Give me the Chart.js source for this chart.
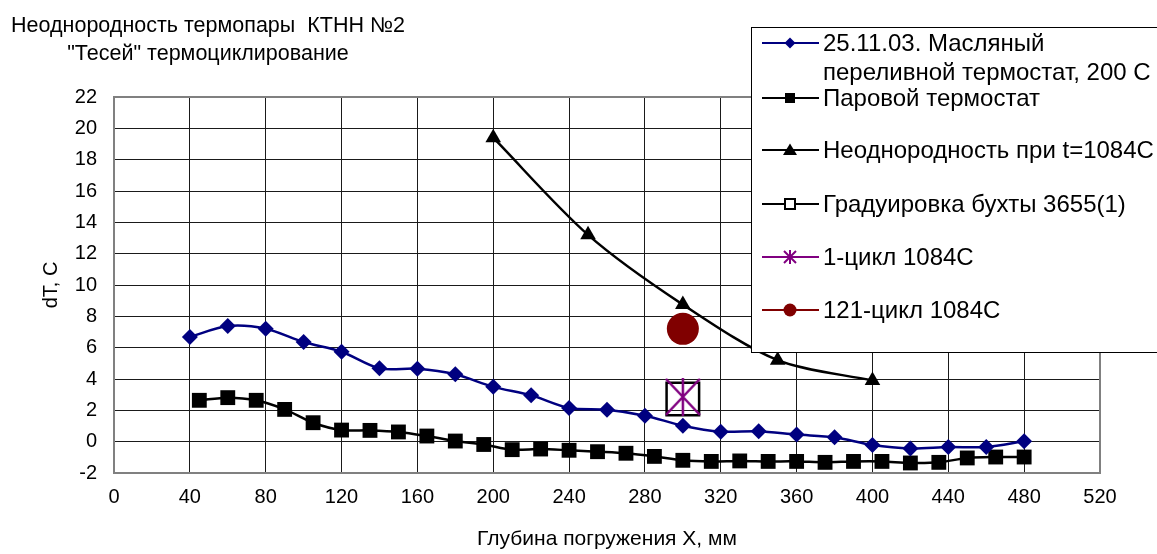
<!DOCTYPE html>
<html><head><meta charset="utf-8">
<script src="https://cdn.jsdelivr.net/npm/chart.js@4/dist/chart.umd.min.js"></script>
<style>html,body{margin:0;padding:0;background:#fff;}#wrap{position:relative;width:1157px;height:554px;}</style>
</head><body><div id="wrap"><canvas id="c" width="1157" height="554"></canvas></div>
<script>
// ---- text ----
const titleLines = ['Неоднородность термопары  КТНН №2', '"Тесей" термоциклирование'];
const xAxisTitle = 'Глубина погружения X, мм';
const yAxisTitle = 'dT, C';
const seriesNames = ['25.11.03. Масляный переливной термостат, 200 C', 'Паровой термостат', 'Неоднородность при t=1084C', 'Градуировка бухты 3655(1)', '1-цикл 1084C', '121-цикл 1084C'];
const legendLines = [['25.11.03. Масляный', 'переливной термостат, 200 C'], ['Паровой термостат'], ['Неоднородность при t=1084C'], ['Градуировка бухты 3655(1)'], ['1-цикл 1084C'], ['121-цикл 1084C']];
// ---- ticks ----
const xTickValues = [0, 40, 80, 120, 160, 200, 240, 280, 320, 360, 400, 440, 480, 520];
const yTickValues = [-2, 0, 2, 4, 6, 8, 10, 12, 14, 16, 18, 20, 22];
// ---- data ----
const oilX = [40, 60, 80, 100, 120, 140, 160, 180, 200, 220, 240, 260, 280, 300, 320, 340, 360, 380, 400, 420, 440, 460, 480];
const oilY = [6.68, 7.38, 7.21, 6.36, 5.74, 4.68, 4.66, 4.30, 3.50, 2.96, 2.15, 2.04, 1.66, 1.02, 0.64, 0.66, 0.45, 0.28, -0.21, -0.43, -0.34, -0.34, 0.02];
const steamX = [45, 60, 75, 90, 105, 120, 135, 150, 165, 180, 195, 210, 225, 240, 255, 270, 285, 300, 315, 330, 345, 360, 375, 390, 405, 420, 435, 450, 465, 480];
const steamY = [2.64, 2.81, 2.64, 2.06, 1.21, 0.74, 0.72, 0.62, 0.36, 0.04, -0.18, -0.51, -0.47, -0.55, -0.64, -0.74, -0.94, -1.19, -1.26, -1.23, -1.26, -1.26, -1.32, -1.26, -1.26, -1.36, -1.32, -1.04, -0.98, -0.98];
const t1084X = [200, 250, 300, 350, 400];
const t1084Y = [19.4, 13.2, 8.75, 5.2, 3.9];
const calibX = [300];
const calibY = [2.72];
const cycle1X = [300];
const cycle1Y = [2.86];
const cycle121X = [300];
const cycle121Y = [7.2];

const pts = (xs, ys) => xs.map((x, i) => ({x: x, y: ys[i]}));
const FONT = "'Liberation Sans', Arial, sans-serif";

function makeStar(w, h, color, lw) {
  const c = document.createElement('canvas');
  c.width = w; c.height = h;
  const g = c.getContext('2d');
  g.strokeStyle = color; g.lineWidth = lw; g.lineCap = 'butt';
  g.beginPath();
  g.moveTo(1, 1); g.lineTo(w - 1, h - 1);
  g.moveTo(w - 1, 1); g.lineTo(1, h - 1);
  g.moveTo(w / 2, 0); g.lineTo(w / 2, h);
  g.stroke();
  return c;
}
const starImg = makeStar(36, 38, '#800080', 2.5);

const titlePlugin = {
  id: 'titleText',
  afterDraw(chart) {
    const ctx = chart.ctx;
    ctx.save();
    ctx.fillStyle = '#000';
    ctx.font = '21.5px ' + FONT;
    ctx.textAlign = 'center';
    ctx.textBaseline = 'alphabetic';
    ctx.fillText(titleLines[0], 208, 31.5);
    ctx.fillText(titleLines[1], 208, 60);
    ctx.restore();
  }
};

const borderPlugin = {
  id: 'plotBorder',
  beforeDatasetsDraw(chart) {
    const a = chart.chartArea, ctx = chart.ctx;
    ctx.save();
    ctx.strokeStyle = '#808080';
    ctx.lineWidth = 2;
    ctx.strokeRect(a.left, a.top, a.right - a.left, a.bottom - a.top);
    ctx.restore();
  }
};

function drawMarker(ctx, kind, x, y) {
  ctx.save();
  if (kind === 'diamond') {
    ctx.fillStyle = '#000080';
    ctx.beginPath(); ctx.moveTo(x, y - 5.5); ctx.lineTo(x + 5.5, y); ctx.lineTo(x, y + 5.5); ctx.lineTo(x - 5.5, y); ctx.closePath(); ctx.fill();
  } else if (kind === 'square') {
    ctx.fillStyle = '#000'; ctx.fillRect(x - 5, y - 5, 10, 10);
  } else if (kind === 'triangle') {
    ctx.fillStyle = '#000';
    ctx.beginPath(); ctx.moveTo(x, y - 6.5); ctx.lineTo(x + 7, y + 5); ctx.lineTo(x - 7, y + 5); ctx.closePath(); ctx.fill();
  } else if (kind === 'hollow') {
    ctx.fillStyle = '#fff'; ctx.fillRect(x - 5, y - 5, 10, 10);
    ctx.strokeStyle = '#000'; ctx.lineWidth = 2; ctx.strokeRect(x - 5, y - 5, 10, 10);
  } else if (kind === 'star') {
    ctx.strokeStyle = '#800080'; ctx.lineWidth = 2;
    ctx.beginPath();
    ctx.moveTo(x - 6, y - 6); ctx.lineTo(x + 6, y + 6);
    ctx.moveTo(x + 6, y - 6); ctx.lineTo(x - 6, y + 6);
    ctx.moveTo(x, y - 7); ctx.lineTo(x, y + 7);
    ctx.stroke();
  } else if (kind === 'circle') {
    ctx.fillStyle = '#800000';
    ctx.beginPath(); ctx.arc(x, y, 6.5, 0, Math.PI * 2); ctx.fill();
  }
  ctx.restore();
}

const legendPlugin = {
  id: 'boxLegend',
  afterDraw(chart) {
    const ctx = chart.ctx;
    const kinds = ['diamond', 'square', 'triangle', 'hollow', 'star', 'circle'];
    const lineColors = ['#000080', '#000', '#000', '#000', '#800080', '#800000'];
    const rowY = [43, 98, 150, 204, 257, 310];
    ctx.save();
    ctx.fillStyle = '#fff';
    ctx.fillRect(751.5, 27.5, 460, 325);
    ctx.strokeStyle = '#000';
    ctx.lineWidth = 1;
    ctx.strokeRect(751.5, 27.5, 460, 325);
    ctx.font = '24px ' + FONT;
    ctx.textBaseline = 'middle';
    ctx.textAlign = 'left';
    chart.data.datasets.forEach((ds, i) => {
      const y = rowY[i];
      ctx.strokeStyle = lineColors[i];
      ctx.lineWidth = 2;
      ctx.beginPath(); ctx.moveTo(762, y); ctx.lineTo(819, y); ctx.stroke();
      drawMarker(ctx, kinds[i], 790, y);
      ctx.fillStyle = '#000';
      legendLines[i].forEach((t, j) => ctx.fillText(t, 823, y + 1 + j * 29));
    });
    ctx.restore();
  }
};

new Chart(document.getElementById('c'), {
  type: 'line',
  data: {
    datasets: [
      {label: seriesNames[0], data: pts(oilX, oilY), borderColor: '#000080', backgroundColor: '#000080', borderWidth: 2.5, tension: 0.3,
       pointStyle: 'rectRot', pointRadius: 8, pointBorderWidth: 0},
      {label: seriesNames[1], data: pts(steamX, steamY), borderColor: '#000', backgroundColor: '#000', borderWidth: 2.5, tension: 0.3,
       pointStyle: 'rect', pointRadius: 10.5, pointBorderWidth: 0},
      {label: seriesNames[2], data: pts(t1084X, t1084Y), borderColor: '#000', backgroundColor: '#000', borderWidth: 2.5, tension: 0.3,
       pointStyle: 'triangle', pointRadius: 9, pointBorderWidth: 0},
      {label: seriesNames[3], data: pts(calibX, calibY), borderColor: '#000', backgroundColor: 'rgba(0,0,0,0)', showLine: false,
       pointStyle: 'rect', pointRadius: 23, pointBorderWidth: 2.5},
      {label: seriesNames[4], data: pts(cycle1X, cycle1Y), borderColor: '#800080', backgroundColor: '#800080', showLine: false,
       pointStyle: starImg, pointRadius: 18, order: -1},
      {label: seriesNames[5], data: pts(cycle121X, cycle121Y), borderColor: '#800000', backgroundColor: '#800000', showLine: false,
       pointStyle: 'circle', pointRadius: 16, pointBorderWidth: 0}
    ]
  },
  options: {
    responsive: false,
    devicePixelRatio: 1,
    animation: false,
    layout: {padding: {top: 97, right: 57, left: 0, bottom: 0}},
    plugins: {legend: {display: false}, tooltip: {enabled: false}, title: {display: false}},
    scales: {
      x: {
        type: 'linear', min: 0, max: 520,
        afterBuildTicks: s => { s.ticks = xTickValues.map(v => ({value: v})); },
        afterFit: s => { s.height = 81; },
        grid: {color: '#1a1a1a', lineWidth: 1, drawTicks: false},
        border: {display: false},
        ticks: {color: '#000', font: {family: FONT, size: 20}, padding: 12, maxRotation: 0, autoSkip: false},
        title: {display: true, text: xAxisTitle, color: '#000', font: {family: FONT, size: 21}, padding: {top: 0, bottom: 2}}
      },
      y: {
        type: 'linear', min: -2, max: 22,
        afterBuildTicks: s => { s.ticks = yTickValues.map(v => ({value: v})); },
        afterFit: s => { s.width = 114; },
        grid: {color: '#1a1a1a', lineWidth: 1, drawTicks: false},
        border: {display: false},
        ticks: {color: '#000', font: {family: FONT, size: 20}, padding: 17, autoSkip: false},
        title: {display: true, text: yAxisTitle, color: '#000', font: {family: FONT, size: 20}, padding: {top: 39, bottom: 0}}
      }
    }
  },
  plugins: [borderPlugin, titlePlugin, legendPlugin]
});
</script>
</body></html>
